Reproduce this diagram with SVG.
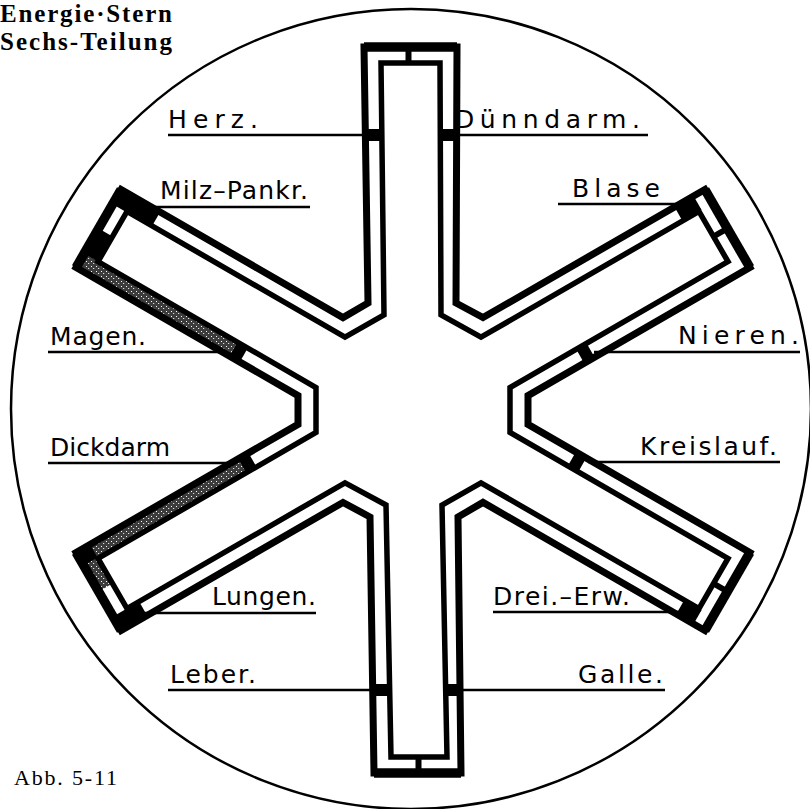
<svg xmlns="http://www.w3.org/2000/svg" width="810" height="809" viewBox="0 0 810 809">
<style>
.wo{fill:none;stroke:#000;stroke-width:7;stroke-linejoin:miter}
.wi{fill:none;stroke:#000;stroke-width:5.5;stroke-linejoin:miter}
.cap{stroke:#000;stroke-width:9.5;fill:none}
.ch{stroke-width:16;fill:none}
.blk{stroke:#000}
.stp{stroke:url(#stip)}
.div{stroke:#000;stroke-width:6}
.lbl{font-family:"DejaVu Sans","Liberation Sans",sans-serif;font-size:25px;fill:#000}
.ul{stroke:#000;stroke-width:2.5}
.ttl{font-family:"Liberation Serif",serif;font-weight:bold;font-size:25px;fill:#000}
.abb{font-family:"Liberation Serif",serif;font-size:22px;fill:#000}
</style>
<defs>
<pattern id="stip" width="5" height="5" patternUnits="userSpaceOnUse">
<rect width="5" height="5" fill="#3c3c3c"/>
<rect x="1" y="1" width="1" height="1" fill="#fff"/>
<rect x="3" y="3" width="1.2" height="1" fill="#ddd"/>
</pattern>
</defs>
<rect width="810" height="809" fill="#fff"/>
<circle id="ring" cx="411" cy="409" r="400" fill="none" stroke="#000" stroke-width="2.5"/>

<g id="channel-fills">
<line class="ch blk" x1="156.1" y1="218.96" x2="117.1" y2="196.46"/>
<line class="ch blk" x1="83.1" y1="271.5" x2="105.6" y2="232.5"/>
<line class="ch blk" x1="119.6" y1="208.25" x2="128.1" y2="193.5"/>
<line class="ch stp" x1="233.4" y1="349.0" x2="84" y2="262.7"/>
<line class="ch blk" x1="243.8" y1="355.0" x2="233.4" y2="349.0"/>
<line class="ch stp" x1="242.1" y1="466.0" x2="84" y2="557.3"/>
<line class="ch stp" x1="105.6" y1="587.5" x2="90.6" y2="561.5"/>
<line class="ch blk" x1="90.6" y1="561.5" x2="83.1" y2="548.5"/>
<line class="ch blk" x1="252.5" y1="460.0" x2="242.1" y2="466.0"/>
<line class="ch blk" x1="143.1" y1="608.5" x2="117.1" y2="623.5"/>
<line class="ch blk" x1="128.1" y1="626.5" x2="120.6" y2="613.5"/>
<line class="ch blk" x1="678.5" y1="213.96" x2="697.6" y2="202.96"/>
<line class="ch blk" x1="580.2" y1="356.2" x2="590.6" y2="350.2"/>
<line class="ch blk" x1="571.8" y1="459.0" x2="582.2" y2="465.0"/>
<line class="ch blk" x1="680.3" y1="607.0" x2="697.6" y2="617.0"/>
<line class="ch blk" x1="373" y1="129" x2="373" y2="141"/>
<line class="ch blk" x1="448.6" y1="129" x2="448.6" y2="141"/>
<line class="ch blk" x1="381" y1="684" x2="381" y2="696"/>
<line class="ch blk" x1="453" y1="684" x2="453" y2="696"/>
</g>

<g id="star">
<polygon id="star-outer" class="wo" points="456,303 457,47 364,47 368,303 343.0,317.6 121.1,189.5 76.1,267.5 298.0,395.6 298.0,424.4 76.1,552.5 121.1,630.5 343.0,502.4 370,517 374,773 461,773 458,517 483.0,502.4 704.9,630.5 749.9,552.5 528.0,424.4 528.0,395.6 749.9,267.5 704.9,189.5 483.0,317.6"/>
<polygon id="star-inner" class="wi" points="441,315 440,63 381,63 384,315 345.0,337.2 127.0,211.4 98.0,261.6 316.0,387.5 316.0,432.5 98.0,558.4 127.0,608.6 345.0,482.8 386,505 391,757 447,757 442,505 481.0,482.8 699.0,608.6 728.0,558.4 510.0,432.5 510.0,387.5 728.0,261.6 699.0,211.4 481.0,337.2"/>
<g id="caps">
<line class="cap" x1="364" y1="47" x2="457" y2="47"/>
<line class="cap" x1="121.1" y1="189.5" x2="76.1" y2="267.5"/>
<line class="cap" x1="76.1" y1="552.5" x2="121.1" y2="630.5"/>
<line class="cap" x1="374" y1="773" x2="461" y2="773"/>
<line class="cap" x1="704.9" y1="630.5" x2="749.9" y2="552.5"/>
<line class="cap" x1="749.9" y1="267.5" x2="704.9" y2="189.5"/>
</g>
<g id="dividers">
<line class="div" x1="408.5" y1="47" x2="408.5" y2="63"/>
<line class="div" x1="418.5" y1="757" x2="418.5" y2="773"/>
<line class="div" x1="713.5" y1="236.5" x2="727.4" y2="228.5"/>
<line class="div" x1="713.5" y1="583.5" x2="727.4" y2="591.5"/>
</g>
</g>

<g id="connectors">
<line class="ul" x1="168" y1="135" x2="366" y2="135"/>
<line class="ul" x1="456" y1="135" x2="648" y2="135"/>
<line class="ul" x1="150" y1="207" x2="310" y2="207"/>
<line class="ul" x1="558" y1="204" x2="685" y2="204"/>
<line class="ul" x1="48" y1="352" x2="226" y2="352"/>
<line class="ul" x1="594" y1="352" x2="800" y2="352"/>
<line class="ul" x1="48" y1="463" x2="234" y2="463"/>
<line class="ul" x1="588" y1="462" x2="780" y2="462"/>
<line class="ul" x1="140" y1="613" x2="316" y2="613"/>
<line class="ul" x1="493" y1="612" x2="685" y2="612"/>
<line class="ul" x1="168" y1="690" x2="373" y2="690"/>
<line class="ul" x1="459" y1="690" x2="665" y2="690"/>
</g>

<g id="label-herz"><text class="lbl" x="168" y="128" textLength="90" lengthAdjust="spacing">Herz.</text></g>
<g id="label-duenndarm"><text class="lbl" x="455" y="128" textLength="185" lengthAdjust="spacing">Dünndarm.</text></g>
<g id="label-milz"><text class="lbl" x="160" y="199" textLength="148" lengthAdjust="spacing">Milz–Pankr.</text></g>
<g id="label-blase"><text class="lbl" x="572" y="197" textLength="88" lengthAdjust="spacing">Blase</text></g>
<g id="label-magen"><text class="lbl" x="50" y="345" textLength="96" lengthAdjust="spacing">Magen.</text></g>
<g id="label-nieren"><text class="lbl" x="678" y="344" textLength="121" lengthAdjust="spacing">Nieren.</text></g>
<g id="label-dickdarm"><text class="lbl" x="50" y="456" textLength="120" lengthAdjust="spacing">Dickdarm</text></g>
<g id="label-kreislauf"><text class="lbl" x="640" y="455" textLength="137" lengthAdjust="spacing">Kreislauf.</text></g>
<g id="label-lungen"><text class="lbl" x="212" y="605" textLength="104" lengthAdjust="spacing">Lungen.</text></g>
<g id="label-dreierw"><text class="lbl" x="493" y="605" textLength="137" lengthAdjust="spacing">Drei.–Erw.</text></g>
<g id="label-leber"><text class="lbl" x="170" y="683" textLength="86" lengthAdjust="spacing">Leber.</text></g>
<g id="label-galle"><text class="lbl" x="578" y="683" textLength="85" lengthAdjust="spacing">Galle.</text></g>

<g id="title">
<text class="ttl" x="0" y="22" textLength="172" lengthAdjust="spacing">Energie·Stern</text>
<text class="ttl" x="0" y="50" textLength="172" lengthAdjust="spacing">Sechs-Teilung</text>
</g>
<g id="caption"><text class="abb" x="14" y="785" textLength="103" lengthAdjust="spacing">Abb. 5-11</text></g>
</svg>
